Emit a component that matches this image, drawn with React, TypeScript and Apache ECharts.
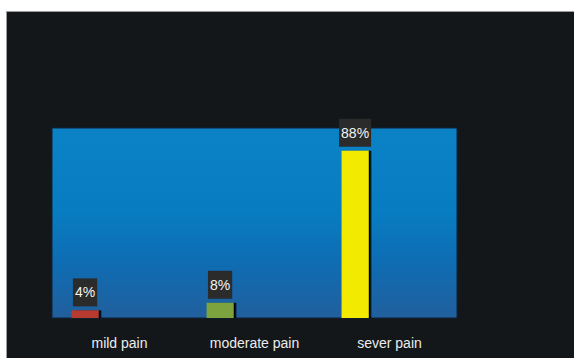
import React, { useEffect, useRef } from "react";
import * as echarts from "echarts";

const categories = ["mild pain", "moderate pain", "sever pain"];
const values = [4, 8, 88];
const barColors = ["#b83b33", "#7ba33c", "#f2ea00"];
const placeholder = [null, null, null];

export default function App() {
  const ref = useRef<HTMLDivElement>(null);
  useEffect(() => {
    if (!ref.current) return;
    const chart = echarts.init(ref.current, null, { renderer: "svg" });
    chart.setOption({
      animation: false,
      backgroundColor: "#131719",
      grid: {
        left: 45,
        top: 116,
        right: 117,
        bottom: 40,
        show: true,
        borderColor: "#0e2236",
        borderWidth: 1,
        backgroundColor: new echarts.graphic.LinearGradient(0, 0, 0, 1, [
          { offset: 0, color: "#0c82c6" },
          { offset: 0.45, color: "#087cc1" },
          { offset: 0.7, color: "#0e6db3" },
          { offset: 1, color: "#215f9d" },
        ]),
      },
      xAxis: {
        type: "category",
        data: categories,
        axisLine: { show: false },
        axisTick: { show: false },
        axisLabel: {
          color: "#ececec",
          fontFamily: "Liberation Sans, Arial, sans-serif",
          fontSize: 14,
          margin: 18,
        },
      },
      yAxis: {
        type: "value",
        min: 0,
        max: 100,
        show: false,
        splitLine: { show: false },
      },
      series: [
        {
          type: "bar",
          barWidth: 27,
          barGap: "155%",
          data: values.map((v, i) => ({
            value: v,
            itemStyle: { color: barColors[i] },
          })),
          itemStyle: {
            shadowColor: "#000000",
            shadowOffsetX: 2.5,
            shadowOffsetY: 0,
            shadowBlur: 0,
          },
          label: {
            show: true,
            position: "top",
            distance: 4,
            formatter: "{c}%",
            color: "#f4f4f4",
            fontFamily: "Liberation Sans, Arial, sans-serif",
            fontSize: 14,
            backgroundColor: "#2b2b2b",
            padding: [7, 2, 7, 2],
          },
        },
        {
          type: "bar",
          barWidth: 27,
          data: placeholder,
        },
      ],
    });
    return () => chart.dispose();
  }, []);
  return (
    <div
      style={{
        position: "fixed",
        left: 0,
        top: 0,
        width: 574,
        height: 358,
        background: "#ffffff",
        overflow: "hidden",
      }}
    >
      <div
        style={{
          position: "absolute",
          left: 6,
          top: 11,
          borderLeft: "1px solid #9c9c9c",
          borderTop: "1px solid #9c9c9c",
        }}
      >
        <div ref={ref} style={{ width: 567, height: 346 }} />
      </div>
    </div>
  );
}
